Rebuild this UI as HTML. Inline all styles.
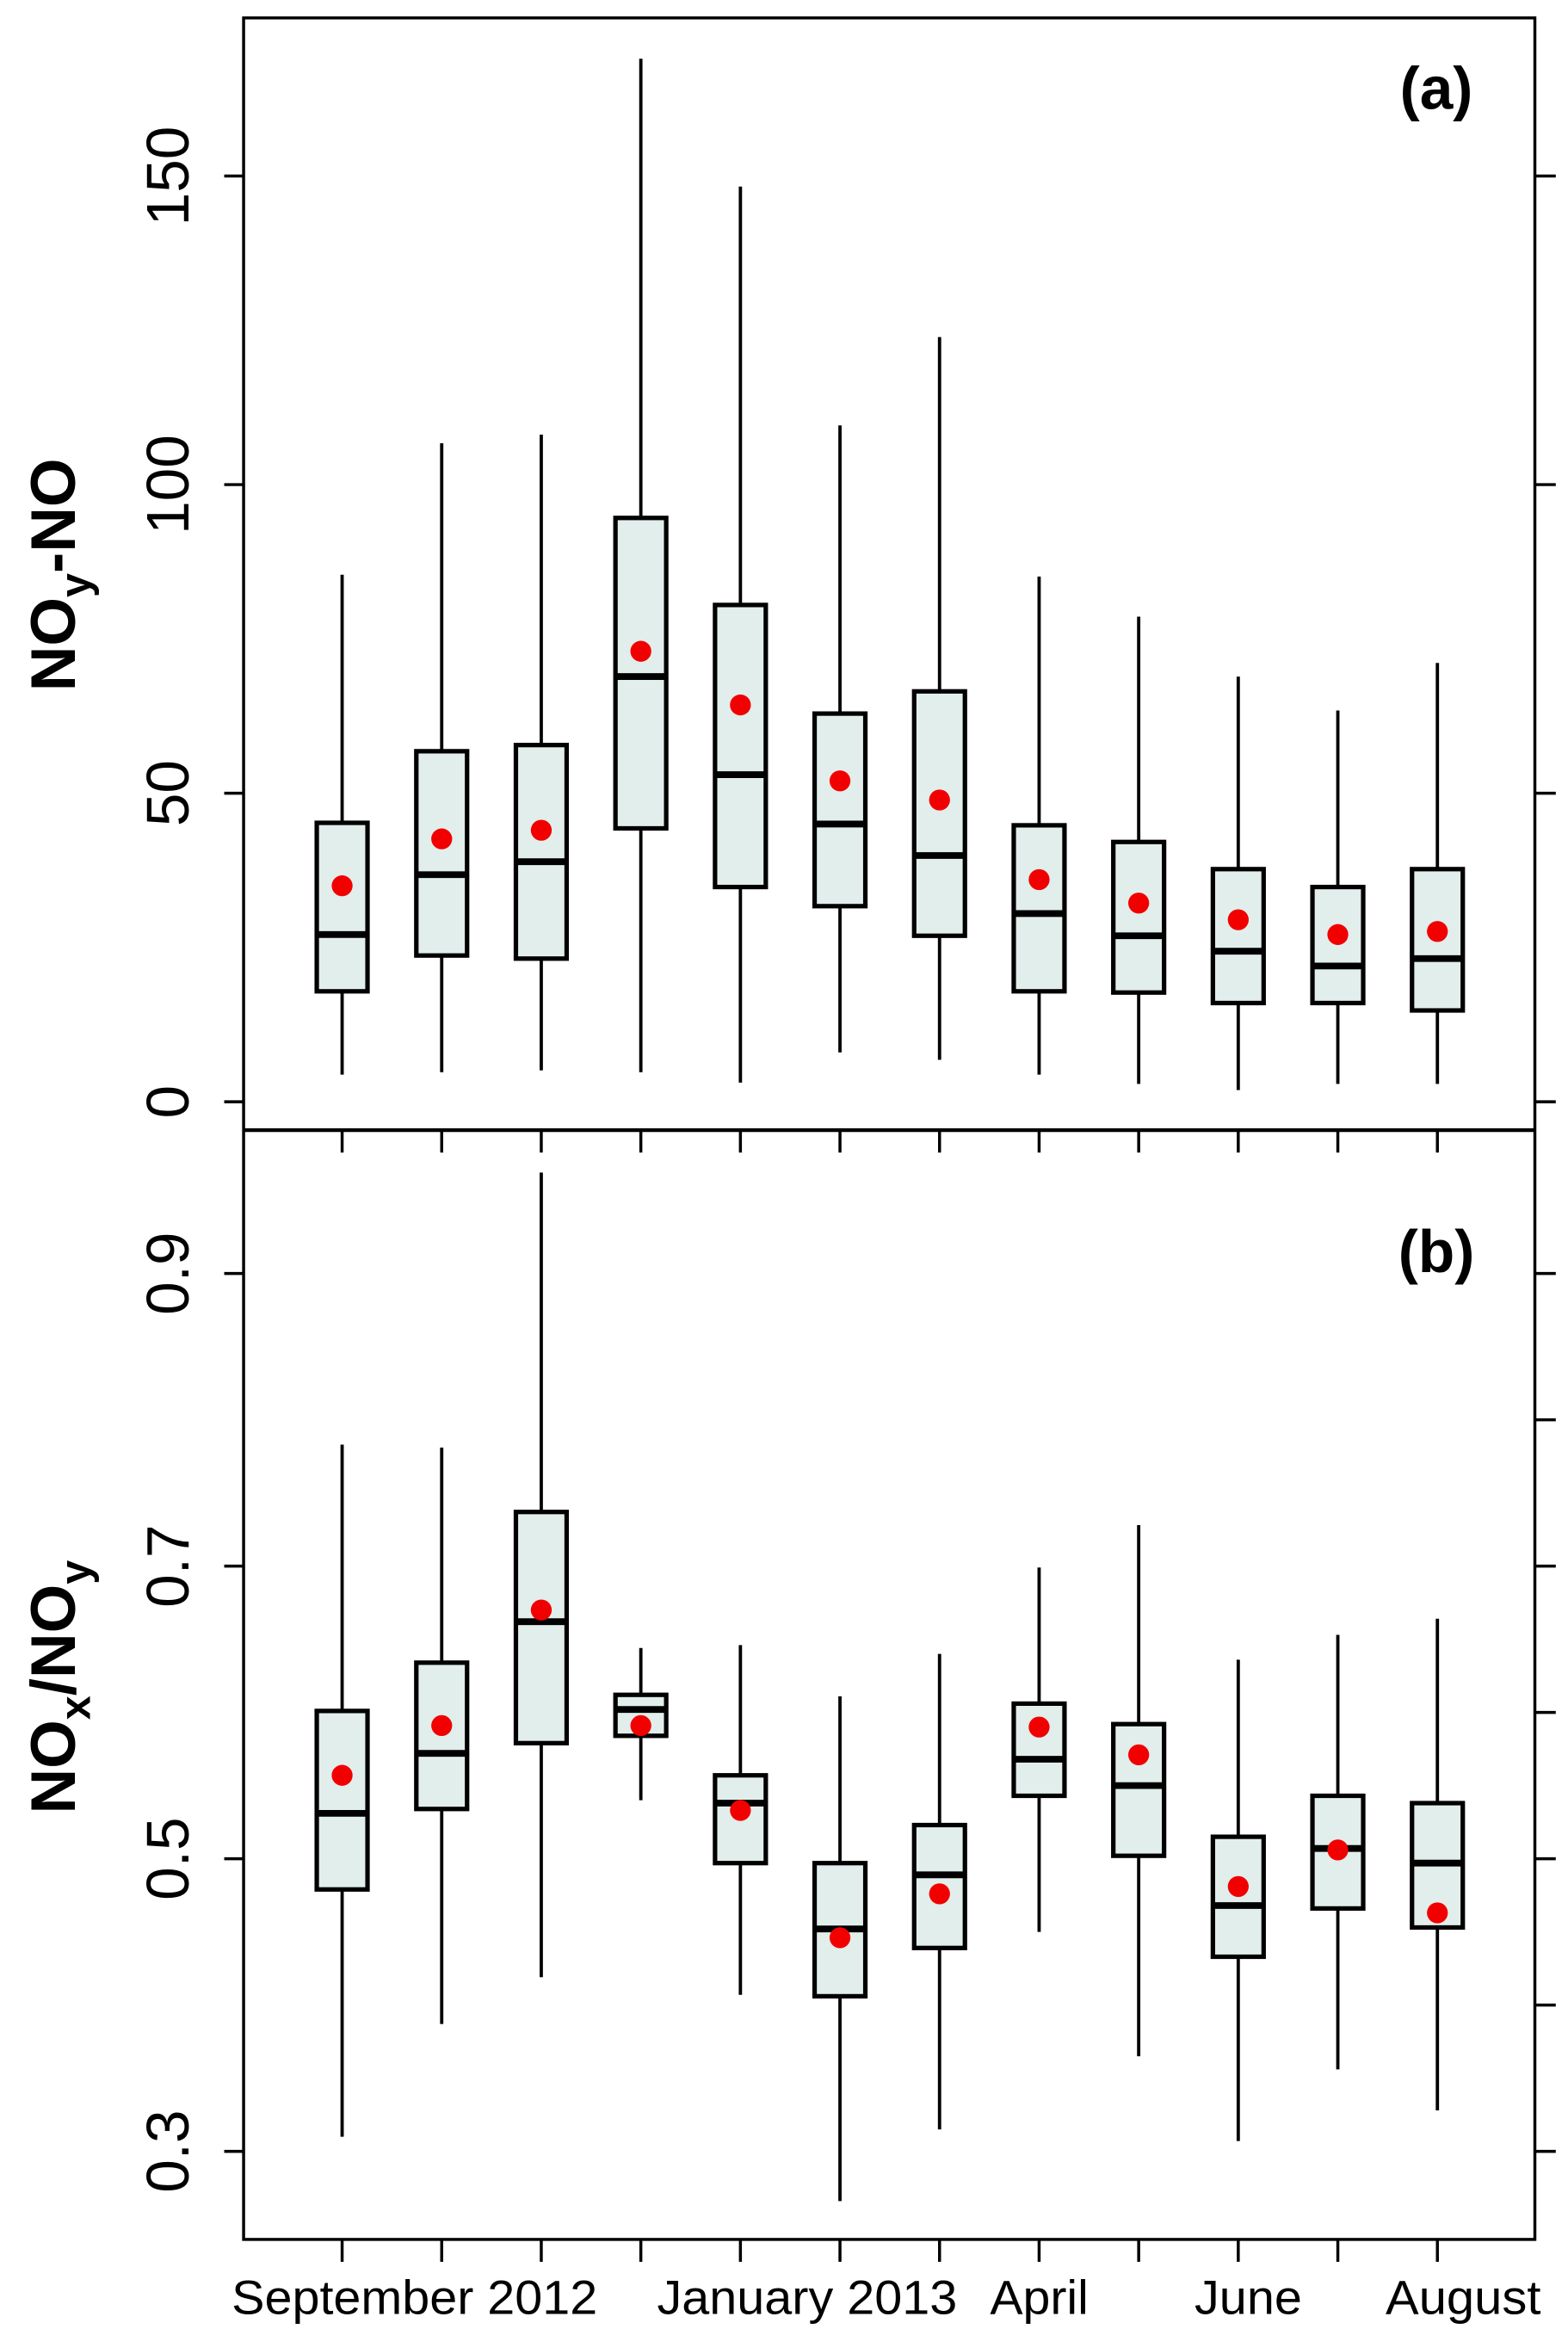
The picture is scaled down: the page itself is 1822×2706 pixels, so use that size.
<!DOCTYPE html>
<html><head><meta charset="utf-8"><style>
html,body{margin:0;padding:0;background:#fff;}
svg{display:block;}
text{font-family:"Liberation Sans",sans-serif;}
</style></head><body>
<svg id="chart" width="1822" height="2706" viewBox="0 0 1050 1560" xmlns="http://www.w3.org/2000/svg">
<rect x="0" y="0" width="1050" height="1560" fill="#fff"/>
<g id="frame">
<rect x="163" y="12" width="865" height="1488" fill="none" stroke="#000" stroke-width="2"/>
<line x1="163" y1="757" x2="1028" y2="757" stroke="#000" stroke-width="2.5"/>
</g>
<g id="axes"></g>
<g id="panelA"></g>
<g id="panelB"></g>
<text x="962" y="73" text-anchor="middle" font-size="40" font-weight="bold">(a)</text>
<text x="962" y="852" text-anchor="middle" font-size="40" font-weight="bold">(b)</text>
<text transform="translate(50,385) rotate(-90)" text-anchor="middle" font-size="42" font-weight="bold">NO<tspan font-size="29" dy="10">y</tspan><tspan dy="-10">-NO</tspan></text>
<text transform="translate(50,1130) rotate(-90)" text-anchor="middle" font-size="42" font-weight="bold">NO<tspan font-size="29" dy="10">x</tspan><tspan dy="-10">/NO</tspan><tspan font-size="29" dy="10">y</tspan></text>
<text x="155" y="1550" font-size="32" textLength="245" lengthAdjust="spacingAndGlyphs">September 2012</text>
<text x="440" y="1550" font-size="32" textLength="201" lengthAdjust="spacingAndGlyphs">January 2013</text>
<text x="663" y="1550" font-size="32" textLength="66" lengthAdjust="spacingAndGlyphs">April</text>
<text x="800" y="1550" font-size="32" textLength="72" lengthAdjust="spacingAndGlyphs">June</text>
<text x="928" y="1550" font-size="32" textLength="104" lengthAdjust="spacingAndGlyphs">August</text>
</svg>
<script>
const months = ["Sep 2012","Oct","Nov","Dec","Jan 2013","Feb","Mar","Apr","May","Jun","Jul","Aug"];
const aLow  = [4.4,4.8,5.1,4.8,3.1,8,6.8,4.4,2.9,1.9,2.9,2.9];
const aQ1   = [17.9,23.7,23.2,44.3,34.8,31.7,26.9,17.9,17.7,16,16,14.8];
const aMed  = [27.1,36.8,38.9,68.9,53,45,39.9,30.5,26.9,24.4,22,23.2];
const aQ3   = [45.2,56.8,57.8,94.6,80.5,62.9,66.5,44.8,42.1,37.7,34.8,37.7];
const aHigh = [85.4,106.7,108.1,169,148.3,109.6,123.9,85.1,78.6,68.9,63.4,71.1];
const aMean = [35,42.6,44,73,64.3,52,48.9,36,32.2,29.5,27.1,27.6];
const bLow  = [0.310,0.387,0.419,0.540,0.407,0.266,0.315,0.450,0.365,0.307,0.356,0.328];
const bQ1   = [0.479,0.534,0.579,0.584,0.497,0.406,0.439,0.543,0.502,0.433,0.466,0.453];
const bMed  = [0.531,0.572,0.662,0.602,0.538,0.452,0.489,0.568,0.550,0.468,0.507,0.497];
const bQ3   = [0.601,0.634,0.737,0.612,0.557,0.497,0.523,0.606,0.592,0.515,0.543,0.538];
const bHigh = [0.783,0.781,0.969,0.644,0.646,0.611,0.640,0.699,0.728,0.636,0.653,0.664];
const bMean = [0.557,0.591,0.670,0.591,0.533,0.446,0.476,0.590,0.571,0.481,0.506,0.463];
const aTicks = [0,50,100,150];
const bTicks = [0.3,0.5,0.7,0.9];
const bMinor = [0.3,0.4,0.5,0.6,0.7,0.8,0.9];

const NS="http://www.w3.org/2000/svg";
const xPos = i => 229 + i*66.7;
const yA = v => 738 - v*4.134;
const yB = v => 1245 - (v-0.5)*980;
function mk(tag, attrs, parent){const e=document.createElementNS(NS,tag);for(const k in attrs)e.setAttribute(k,attrs[k]);parent.appendChild(e);return e;}

const axes=document.getElementById('axes');
aTicks.forEach(t=>{
  const y=yA(t);
  let l=mk('line',{x1:150,x2:163,y1:y,y2:y,stroke:'#000','stroke-width':2},axes);
  
  
  let r=mk('line',{x1:1028,x2:1042,y1:y,y2:y,stroke:'#000','stroke-width':2},axes);
  
  
  let tx=mk('text',{transform:`translate(126,${y}) rotate(-90)`,'text-anchor':'middle','font-size':40,fill:'#000'},axes);
  tx.textContent=String(t);
  
  
});
bTicks.forEach(t=>{
  const y=yB(t);
  let l=mk('line',{x1:150,x2:163,y1:y,y2:y,stroke:'#000','stroke-width':2},axes);
  
  
  let tx=mk('text',{transform:`translate(126,${y}) rotate(-90)`,'text-anchor':'middle','font-size':40,fill:'#000'},axes);
  tx.textContent=t.toFixed(1);
  
  
});
bMinor.forEach(t=>{
  const y=yB(t);
  let r=mk('line',{x1:1028,x2:1042,y1:y,y2:y,stroke:'#000','stroke-width':2},axes);
  
  
});
months.forEach((m,i)=>{
  const x=xPos(i);
  let t1=mk('line',{x1:x,x2:x,y1:757,y2:772,stroke:'#000','stroke-width':2},axes);
  
  
  let t2=mk('line',{x1:x,x2:x,y1:1500,y2:1515,stroke:'#000','stroke-width':2},axes);
  
  
});

function drawBoxes(g, low,q1,med,q3,high,mean,yf,prefix){
  months.forEach((m,i)=>{
    const x=xPos(i), hw=17;
    const grp=mk('g',{},g);
    
    
    let w1=mk('line',{x1:x,x2:x,y1:yf(high[i]),y2:yf(q3[i]),stroke:'#000','stroke-width':2.2},grp);
    
    
    let w2=mk('line',{x1:x,x2:x,y1:yf(q1[i]),y2:yf(low[i]),stroke:'#000','stroke-width':2.2},grp);
    
    
    let b=mk('rect',{x:x-hw,y:yf(q3[i]),width:2*hw,height:yf(q1[i])-yf(q3[i]),fill:'#e1eeec',stroke:'#000','stroke-width':3},grp);
    
    
    let md=mk('line',{x1:x-hw,x2:x+hw,y1:yf(med[i]),y2:yf(med[i]),stroke:'#000','stroke-width':4.5},grp);
    
    
    let c=mk('circle',{cx:x,cy:yf(mean[i]),r:7,fill:'#f20000'},grp);
    
    
  });
}
drawBoxes(document.getElementById('panelA'),aLow,aQ1,aMed,aQ3,aHigh,aMean,yA,'a');
drawBoxes(document.getElementById('panelB'),bLow,bQ1,bMed,bQ3,bHigh,bMean,yB,'b');
</script>
</body></html>
